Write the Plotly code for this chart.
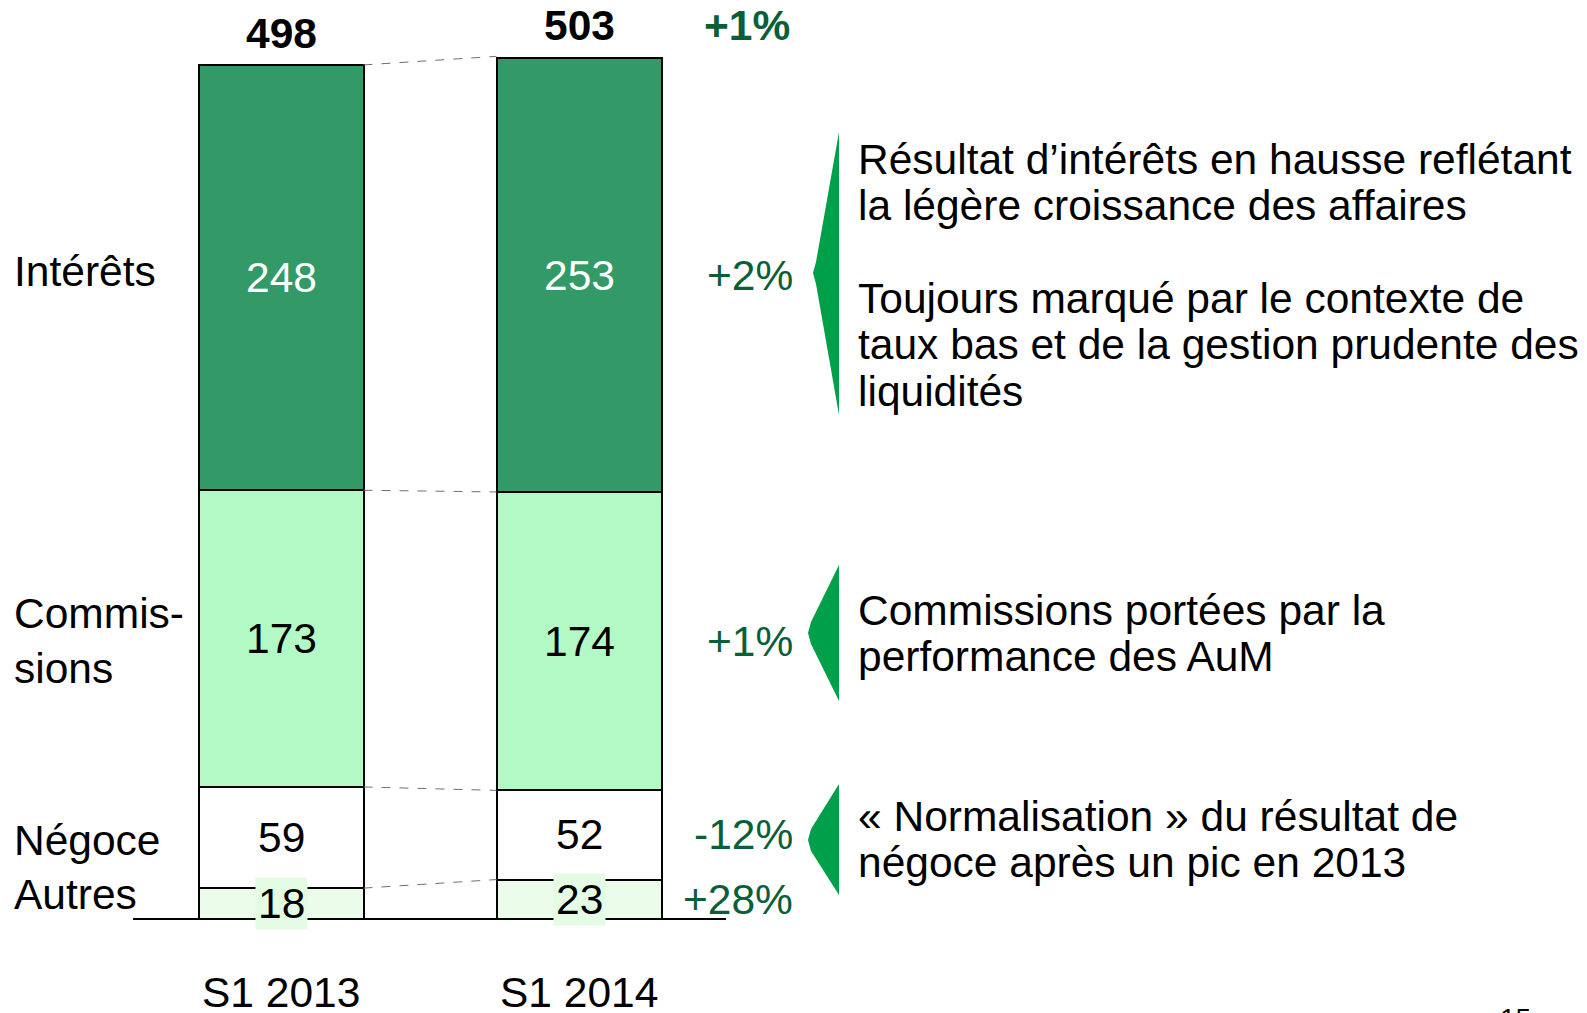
import plotly.graph_objects as go

W, H = 1587, 1013

periods = ["S1 2013", "S1 2014"]
segments = ["Autres", "Négoce", "Commissions", "Intérêts"]
autres = [18, 23]
negoce = [59, 52]
commissions = [173, 174]
interets = [248, 253]
totals = [498, 503]
changes = ["+28%", "-12%", "+1%", "+2%"]
total_change = "+1%"

seg_values = [autres, negoce, commissions, interets]
seg_colors = ["#EBFCEB", "#FFFFFF", "#B3F9C6", "#339966"]
label_colors = ["#000000", "#000000", "#000000", "#FFFFFF"]
left_labels = ["Autres", "Négoce", "Commis-<br>sions", "Intérêts"]

comments = [
    ["Résultat d’intérêts en hausse reflétant", "la légère croissance des affaires", "",
     "Toujours marqué par le contexte de", "taux bas et de la gestion prudente des", "liquidités"],
    ["Commissions portées par la", "performance des AuM"],
    ["« Normalisation » du résultat de", "négoce après un pic en 2013"],
]

FONT = "Liberation Sans, Arial, sans-serif"
FS = 42.5
DARK = "#0A5E38"
BRACKET = "#00A04A"

# the page body adds an 8px margin, so page pixels are shifted back by it
OFF = 8

def px(x):
    return (x - OFF) / W

def py(y):
    return 1 - (y - OFF) / H

# axis scaling: bar centres at 281 / 579 px, baseline at 919 px (page coords)
x_step = 298.0
bar_w = 165 / x_step
x0 = -(281.0 - OFF) / x_step
x1 = x0 + W / x_step
unit = 1.715
base_px = 919 - OFF
y0 = -(H - base_px) / unit
y1 = base_px / unit

fig = go.Figure()
for name, vals, col in zip(segments, seg_values, seg_colors):
    fig.add_trace(go.Bar(
        x=[0, 1], y=vals, name=name, width=bar_w,
        marker=dict(color=col, line=dict(color="black", width=2)),
        hoverinfo="skip",
    ))

annotations = []
shapes = []

# cumulative bases
bases = []
run = [0, 0]
for vals in seg_values:
    bases.append(list(run))
    run = [run[i] + vals[i] for i in range(2)]

# segment labels
for k, vals in enumerate(seg_values):
    for i in range(2):
        a = dict(x=i, y=bases[k][i] + vals[i] / 2, xref="x", yref="y",
                 text=str(vals[i]), showarrow=False,
                 font=dict(family=FONT, size=FS, color=label_colors[k]))
        if k == 0:
            a.update(bgcolor="#E3FCE3", borderpad=2)
        annotations.append(a)

# totals
for i in range(2):
    annotations.append(dict(x=i, y=totals[i], xref="x", yref="y", text="<b>%d</b>" % totals[i],
                            showarrow=False, yanchor="middle", yshift=31,
                            font=dict(family=FONT, size=FS, color="black")))

# percentage changes, right aligned
annotations.append(dict(x=px(792), y=totals[1], xref="paper", yref="y", text="<b>%s</b>" % total_change,
                        showarrow=False, xanchor="right", yshift=31,
                        font=dict(family=FONT, size=FS, color=DARK)))
for k, ch in enumerate(changes):
    annotations.append(dict(x=px(795), y=bases[k][1] + seg_values[k][1] / 2, xref="paper", yref="y",
                            text=ch, showarrow=False, xanchor="right",
                            font=dict(family=FONT, size=FS, color=DARK)))

# left row labels
left_y = [894, 840, 641, 271]
for lab, yy in zip(left_labels, left_y):
    annotations.append(dict(x=px(12), y=py(yy), xref="paper", yref="paper", text=lab,
                            showarrow=False, xanchor="left", yanchor="middle", align="left",
                            font=dict(family=FONT, size=FS, color="black")))

# period labels
for i, p in enumerate(periods):
    annotations.append(dict(x=i, y=py(992), xref="x", yref="paper", text=p, showarrow=False,
                            yanchor="middle", font=dict(family=FONT, size=FS, color="black")))

# comment lines
comment_y = [[159, 205, 252, 298, 344, 391], [610, 656], [816, 862]]
for lines, ys in zip(comments, comment_y):
    for t, yy in zip(lines, ys):
        if not t:
            continue
        annotations.append(dict(x=px(856), y=py(yy), xref="paper", yref="paper", text=t,
                                showarrow=False, xanchor="left", yanchor="middle",
                                font=dict(family=FONT, size=FS, color="black")))

# page number, partly cut at the bottom
annotations.append(dict(x=px(1498), y=py(1001), xref="paper", yref="paper", text="15",
                        showarrow=False, xanchor="left", yanchor="top",
                        font=dict(family=FONT, size=28, color="black")))

# brackets
brackets = [(132, 415, 273, 813), (565, 701, 633, 808), (784, 895, 840, 808)]
for top, bot, mid, tip in brackets:
    path = "M %f %f L %f %f L %f %f L %f %f L %f %f Z" % (
        px(839), py(top), px(tip + 3), py(mid - 11), px(tip), py(mid),
        px(tip + 3), py(mid + 11), px(839), py(bot))
    shapes.append(dict(type="path", path=path, xref="paper", yref="paper",
                       fillcolor=BRACKET, line=dict(width=0)))

# dashed connectors between bars
tops = [totals] + [[bases[k][i] for i in range(2)] for k in (3, 2, 1)]
for t in tops:
    shapes.append(dict(type="line", xref="x", yref="y", x0=bar_w / 2, x1=1 - bar_w / 2,
                       y0=t[0], y1=t[1], line=dict(color="#707070", width=1, dash="dash")))

# baseline
shapes.append(dict(type="line", xref="paper", yref="y", x0=px(133), x1=px(726), y0=0, y1=0,
                   line=dict(color="black", width=2)))

fig.update_layout(
    width=W, height=H,
    barmode="stack",
    showlegend=False,
    margin=dict(l=0, r=0, t=0, b=0),
    plot_bgcolor="white",
    paper_bgcolor="white",
    xaxis=dict(range=[x0, x1], visible=False, fixedrange=True),
    yaxis=dict(range=[y0, y1], visible=False, fixedrange=True),
    annotations=annotations,
    shapes=shapes,
)

fig.write_html("out.html")
